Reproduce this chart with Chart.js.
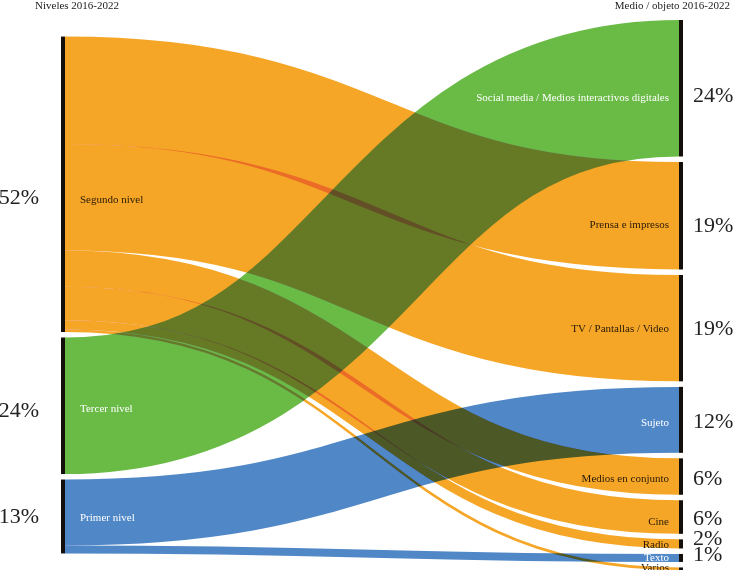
<!DOCTYPE html>
<html>
<head>
<meta charset="utf-8">
<script src="https://cdn.jsdelivr.net/npm/chart.js@4.4.0/dist/chart.umd.min.js"></script>
<style>
    body { margin: 0; background: #fff; }
    #wrap { width: 733px; height: 570px; }
</style>
</head>
<body>
<div id="wrap"><canvas id="sankey"></canvas></div>
<script>
// niveles (izquierda) y medio / objeto (derecha)
const leftNodes = ['Segundo nivel', 'Tercer nivel', 'Primer nivel']
const rightNodes = ['Social media / Medios interactivos digitales', 'Prensa e impresos',
    'TV / Pantallas / Video', 'Sujeto', 'Medios en conjunto', 'Cine', 'Radio', 'Texto', 'Varios']
const leftTitle = 'Niveles 2016-2022'
const rightTitle = 'Medio / objeto 2016-2022'

// flujos: origen (izquierda) -> destino (derecha), en %
const linkFrom  = [0, 0, 0, 0, 0, 0, 1, 2, 2]
const linkTo    = [1, 2, 4, 5, 6, 8, 0, 3, 7]
const linkValue = [18.9, 18.7, 6.4, 5.9, 1.6, 0.45, 24.0, 11.6, 1.4]

// estilo
const leftColors = ['#f5a626', '#6abb46', '#4f87c7']
const nodePad = 0.97      // hueco entre nodos, en unidades del eje y
const nodeWidth = 4       // px
const serif = '"Liberation Serif", "Times New Roman", serif'
// pequeños ajustes verticales de los textos (px)
const leftLabelDy = [16, 3, 2]
const leftPctDy = [14, 5, 1]
const rightLabelDy = [10, 9, 1, 3, 3, 5, 1, 0, -1]
const rightPctDy = [8, 10, 1, 2, 3, 2, -5, -3, 0]

function totals(count, idx) {
    const t = new Array(count).fill(0)
    linkValue.forEach((v, i) => { t[idx[i]] += v })
    return t
}
const leftTotals = totals(leftNodes.length, linkFrom)
const rightTotals = totals(rightNodes.length, linkTo)
const maxNodes = Math.max(leftNodes.length, rightNodes.length)
const yMax = leftTotals.reduce((a, b) => a + b, 0) + (maxNodes - 1) * nodePad

function columnTops(vals) {
    const h = vals.reduce((a, b) => a + b, 0) + (vals.length - 1) * nodePad
    let y = (yMax - h) / 2
    return vals.map(v => { const top = y; y += v + nodePad; return top })
}
const leftTops = columnTops(leftTotals)
const rightTops = columnTops(rightTotals)

// color de cada nodo derecho = color del origen de su primer flujo
const rightColors = rightNodes.map((_, j) => leftColors[linkFrom[linkTo.indexOf(j)]])
function textColor(c) {
    return c === leftColors[0] ? '#2a1a0a' : '#ffffff'
}
const pct = v => Math.round(v) > 0 ? Math.round(v) + '%' : ''

function layer(w, h) {
    const c = document.createElement('canvas')
    c.width = w
    c.height = h
    return c.getContext('2d')
}

const sankeyPlugin = {
    id: 'sankey',
    afterDatasetsDraw(chart) {
        const ctx = chart.ctx
        const xs = chart.scales.x
        const ys = chart.scales.y
        const py = v => ys.getPixelForValue(v)
        const xL = xs.getPixelForValue(0)
        const xR = xs.getPixelForValue(1)
        const x0 = xL + nodeWidth
        const x1 = xR - nodeWidth

        // posiciones de cada flujo en origen y destino
        const srcOff = leftTops.slice()
        const dstOff = rightTops.slice()
        const order = linkValue.map((_, i) => i)
        const bySrc = order.slice().sort((a, b) => linkFrom[a] - linkFrom[b] || linkTo[a] - linkTo[b])
        const byDst = order.slice().sort((a, b) => linkTo[a] - linkTo[b] || linkFrom[a] - linkFrom[b])
        const ya = [], yb = []
        bySrc.forEach(i => { ya[i] = srcOff[linkFrom[i]] + linkValue[i] / 2; srcOff[linkFrom[i]] += linkValue[i] })
        byDst.forEach(i => { yb[i] = dstOff[linkTo[i]] + linkValue[i] / 2; dstOff[linkTo[i]] += linkValue[i] })

        // los flujos se superponen como tinta: rojo/verde multiplican, azul oscurece
        const dpr = chart.currentDevicePixelRatio
        const cw = chart.canvas.width, ch = chart.canvas.height
        function paint(mode, mask) {
            const g = layer(cw, ch)
            g.fillStyle = '#fff'
            g.fillRect(0, 0, cw, ch)
            g.setTransform(dpr, 0, 0, dpr, 0, 0)
            g.globalCompositeOperation = mode
            g.lineCap = 'butt'
            order.forEach(i => {
                const a = py(ya[i]), b = py(yb[i])
                const xm = (x0 + x1) / 2
                g.beginPath()
                g.moveTo(x0, a)
                g.bezierCurveTo(xm, a, xm, b, x1, b)
                g.lineWidth = Math.abs(py(linkValue[i]) - py(0))
                g.strokeStyle = leftColors[linkFrom[i]]
                g.stroke()
            })
            g.setTransform(1, 0, 0, 1, 0, 0)
            g.globalCompositeOperation = 'multiply'
            g.fillStyle = mask
            g.fillRect(0, 0, cw, ch)
            return g
        }
        const rg = paint('multiply', '#ffff00')
        const bl = paint('darken', '#0000ff')
        rg.globalCompositeOperation = 'lighter'
        rg.drawImage(bl.canvas, 0, 0)

        ctx.save()
        ctx.setTransform(1, 0, 0, 1, 0, 0)
        ctx.drawImage(rg.canvas, 0, 0)
        ctx.restore()

        ctx.save()
        ctx.fillStyle = '#140f0a'
        leftNodes.forEach((_, k) => {
            ctx.fillRect(xL, py(leftTops[k]), nodeWidth, py(leftTotals[k]) - py(0))
        })
        rightNodes.forEach((_, k) => {
            ctx.fillRect(x1, py(rightTops[k]), nodeWidth, py(rightTotals[k]) - py(0))
        })

        ctx.textBaseline = 'middle'
        leftNodes.forEach((name, k) => {
            const yc = py(leftTops[k] + leftTotals[k] / 2)
            ctx.font = '11px ' + serif
            ctx.textAlign = 'left'
            ctx.fillStyle = textColor(leftColors[k])
            ctx.fillText(name, x0 + 15, yc + leftLabelDy[k])
            ctx.font = '22px ' + serif
            ctx.textAlign = 'right'
            ctx.fillStyle = '#222'
            ctx.fillText(pct(leftTotals[k]), xL - 22, yc + leftPctDy[k])
        })
        rightNodes.forEach((name, k) => {
            const yc = py(rightTops[k] + rightTotals[k] / 2)
            ctx.font = '11px ' + serif
            ctx.textAlign = 'right'
            ctx.fillStyle = textColor(rightColors[k])
            ctx.fillText(name, x1 - 10, yc + rightLabelDy[k])
            ctx.font = '22px ' + serif
            ctx.textAlign = 'left'
            ctx.fillStyle = '#222'
            ctx.fillText(pct(rightTotals[k]), xR + 10, yc + rightPctDy[k])
        })

        ctx.font = '11px ' + serif
        ctx.fillStyle = '#222'
        ctx.textAlign = 'left'
        ctx.fillText(leftTitle, 35, 6)
        ctx.textAlign = 'right'
        ctx.fillText(rightTitle, 730, 6)
        ctx.restore()
    }
}

new Chart(document.querySelector('#sankey'), {
    type: 'scatter',
    data: { datasets: [] },
    options: {
        responsive: true,
        maintainAspectRatio: false,
        animation: false,
        layout: { padding: { left: 61, right: 50, top: 20, bottom: 0 } },
        plugins: { legend: { display: false }, tooltip: { enabled: false } },
        scales: {
            x: { type: 'linear', min: 0, max: 1, display: false },
            y: { type: 'linear', min: 0, max: yMax, reverse: true, display: false }
        }
    },
    plugins: [sankeyPlugin]
})
</script>
</body>
</html>
